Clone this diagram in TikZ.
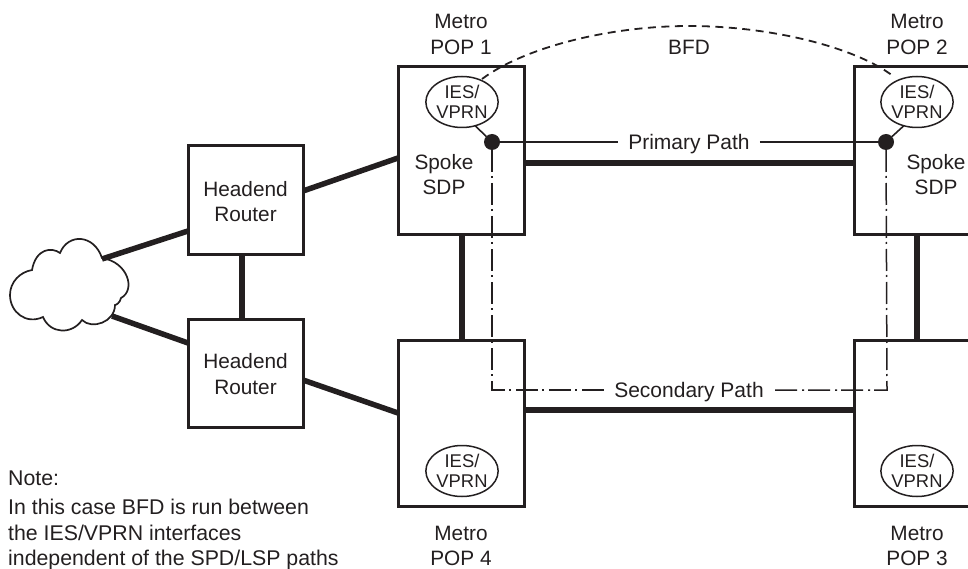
\documentclass[tikz,border=0pt]{standalone}
\usepackage{fontspec}
\setmainfont{Liberation Sans}
\usetikzlibrary{shapes.geometric}
\definecolor{ink}{HTML}{231F20}
\tikzset{
  x=1pt,y=-1pt,
  box/.style={draw=ink,line width=3pt,inner sep=0pt,outer sep=0pt},
  popbox/.style={box,minimum width=126pt},
  headbox/.style={box,minimum width=115pt,minimum height=108pt},
  ies/.style={draw=ink,line width=1.5pt,ellipse,minimum width=71pt,minimum height=51pt,inner sep=0pt,outer sep=0pt,align=center,font=\fontsize{18.4}{20.5}\selectfont,text=ink},
  lbl/.style={align=center,inner sep=0pt,font=\fontsize{20.8}{25.5}\selectfont,text=ink},
  pathlbl/.style={inner sep=0pt,inner xsep=10pt,text height=15pt,text depth=0.4pt,font=\fontsize{21}{24}\selectfont,text=ink},
  dotn/.style={circle,fill=ink,minimum size=16pt,inner sep=0pt,outer sep=0pt},
  trunk/.style={draw=ink,line width=5.5pt},
  thin/.style={draw=ink,line width=1.6pt},
  dashdot/.style={draw=ink,line width=1.5pt,dash pattern=on 22pt off 4pt on 2pt off 5pt},
  bfdline/.style={draw=ink,line width=1.8pt,dash pattern=on 8pt off 5.5pt},
  note/.style={anchor=base west,inner sep=0pt,font=\fontsize{21.3}{21.3}\selectfont,text=ink}
}
\begin{document}
\begin{tikzpicture}
\useasboundingbox (0,0) rectangle (968,569);
\clip (0,0) rectangle (968,569);
% boxes
\node[popbox,minimum height=168pt] (pop1) at (461,151) {};
\node[popbox,minimum height=166pt] (pop4) at (461,423) {};
\node[popbox,minimum height=168pt] (pop2) at (917,151) {};
\node[popbox,minimum height=166pt] (pop3) at (917,423) {};
\node[headbox] (head1) at (245.5,200) {};
\node[headbox] (head2) at (245.5,373) {};
\node[lbl] (hl1) at (245.5,201.5) {Headend\\Router};
\node[lbl] (hl2) at (245.5,374) {Headend\\Router};
% cloud
\draw[draw=ink,line width=1.7pt,fill=white]
  (32,270) .. controls (36,248) and (52,247) .. (60,253)
  .. controls (68,233) and (94,234) .. (102,258)
  .. controls (128,262) and (136,290) .. (121,298)
  .. controls (120,303) and (116,305) .. (115,305)
  .. controls (115,322) and (92,330) .. (82,320)
  .. controls (72,335) and (50,334) .. (43,317)
  .. controls (26,325) and (10,312) .. (10,295)
  .. controls (10,282) and (20,272) .. (32,270) -- cycle;
\coordinate (cloudtop) at (102,259);
\coordinate (cloudbot) at (112,316);
\coordinate (h1w) at (188,231);
\coordinate (h2w) at (188,343);
\coordinate (h1e) at (303,191);
\coordinate (h2e) at (303,380);
\coordinate (p1w) at (398,158);
\coordinate (p4w) at (398,413);
\coordinate (h1s) at (242,254);
\coordinate (h2n) at (242,319);
\coordinate (p1s) at (462,235);
\coordinate (p4n) at (462,340);
\coordinate (p2s) at (917,235);
\coordinate (p3n) at (917,340);
\coordinate (p1e) at (524,163);
\coordinate (p2w) at (854,163);
\coordinate (p4e) at (524,410);
\coordinate (p3w) at (854,410);
\draw[trunk] (cloudtop) -- (h1w);
\draw[trunk] (cloudbot) -- (h2w);
\draw[trunk] (h1e) -- (p1w);
\draw[trunk] (h2e) -- (p4w);
\draw[trunk] (h1s) -- (h2n);
\draw[trunk] (p1s) -- (p4n);
\draw[trunk] (p2s) -- (p3n);
\draw[trunk] (p1e) -- (p2w);
\draw[trunk] (p4e) -- (p3w);
% ellipses
\node[ies] (e1) at (462,102) {IES/\\VPRN};
\node[ies] (e2) at (917,102) {IES/\\VPRN};
\node[ies] (e4) at (462,471) {IES/\\VPRN};
\node[ies] (e3) at (917,471) {IES/\\VPRN};
% dots
\node[dotn] (d1) at (492,142) {};
\node[dotn] (d2) at (886,142) {};
\draw[thin] (e1.-61) -- (d1);
\draw[thin] (e2.-119) -- (d2);
% primary path
\node[pathlbl] (prim) at (689,142) {Primary Path};
\draw[thin] (d1) -- (prim.west);
\draw[thin] (prim.east) -- (d2);
% secondary path
\node[pathlbl] (sec) at (689,390) {Secondary Path};
\coordinate (c1) at (492,390);
\coordinate (c2) at (887,390);
\draw[dashdot] (d1) -- (c1) -- (sec.west);
\draw[dashdot] (d2) -- (c2) -- (sec.east);
% BFD
\node[lbl] (bfd) at (689,47) {BFD};
\coordinate (b1) at (482,79);
\coordinate (bt) at (689,26);
\coordinate (b2) at (893,76);
\draw[bfdline] (b1) .. controls (525,47) and (610,26) .. (bt)
  .. controls (770,26) and (855,47) .. (b2);
% labels
\node[lbl] (m1) at (461,34.5) {Metro\\POP 1};
\node[lbl] (m2) at (917,34.5) {Metro\\POP 2};
\node[lbl] (m4) at (461,546) {Metro\\POP 4};
\node[lbl] (m3) at (917,546) {Metro\\POP 3};
\node[lbl] (s1) at (444,174.5) {Spoke\\SDP};
\node[lbl] (s2) at (936,174.5) {Spoke\\SDP};
% note
\node[note] (n1) at (8,485) {Note:};
\node[note] (n2) at (8,514) {In this case BFD is run between};
\node[note] (n3) at (8,540) {the IES/VPRN interfaces};
\node[note] (n4) at (8,565) {independent of the SPD/LSP paths};
\end{tikzpicture}
\end{document}
